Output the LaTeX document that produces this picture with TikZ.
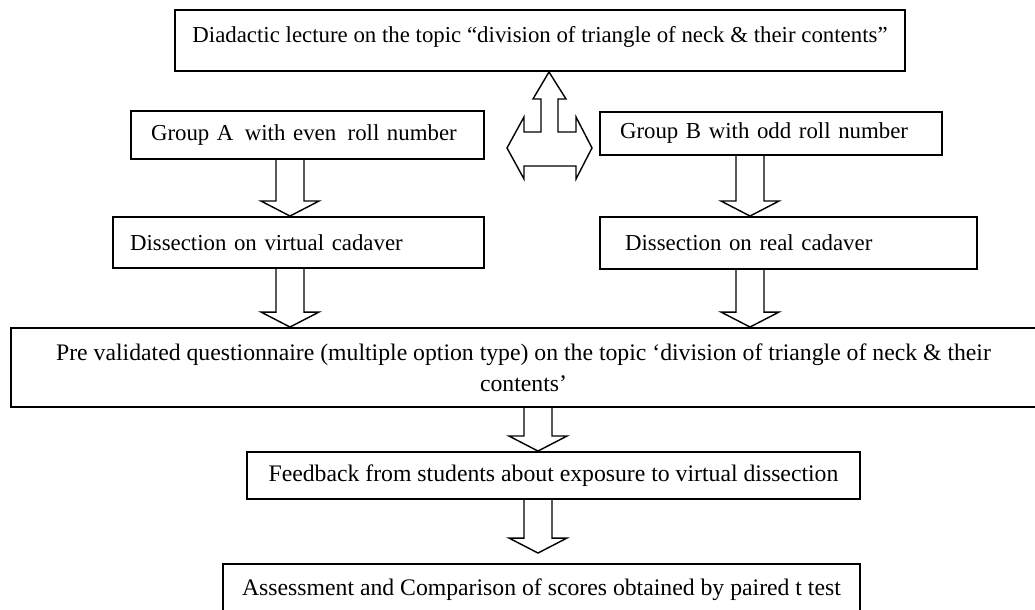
\documentclass[tikz,border=0pt]{standalone}
\usepackage{fontspec}
\setmainfont{Liberation Serif}
\usetikzlibrary{calc}

% hollow block arrow pointing down, from one box to the next at a given x (px)
\newcommand{\blockdown}[4][0]{%
  \path (#4,0) coordinate (bx);
  \coordinate (bs) at (#2.south -| bx);
  \coordinate (bt) at ($(#3.north -| bx)+(0,-#1)$);
  \draw[hollow] ($(bs)+(-14,0)$) -- ($(bt)+(-14,-15)$) -- ($(bt)+(-29,-15)$) -- (bt)
    -- ($(bt)+(29,-15)$) -- ($(bt)+(14,-15)$) -- ($(bs)+(14,0)$);
}

\begin{document}
\begin{tikzpicture}[x=0.02cm,y=-0.02cm]
        \tikzstyle{stepbox}=[draw=black,line width=1.1pt,inner ysep=0pt,font=\fontsize{13.5pt}{17.6pt}\selectfont]
        \tikzstyle{upperbox}=[stepbox,font=\fontsize{13pt}{17pt}\selectfont]
        \tikzstyle{leftbox}=[upperbox,align=left,inner xsep=0pt]
        \tikzstyle{hollow}=[draw=black,thick,line join=miter]
        \clip (0,0) rectangle (1035,609);
        \begin{scope}
            \node [upperbox,text depth=0.25cm,minimum width=14.6cm,minimum height=1.22cm] (lecture) at (540,40.5)
                {Diadactic lecture on the topic “division of triangle of neck \& their contents”};
            \node [leftbox,text width=7.06cm,minimum height=0.96cm] (groupA) at (307.5,135)
                {\hspace*{0.4cm}Group A\,\ with even\,\ roll number};
            \node [leftbox,text width=6.84cm,minimum height=0.86cm] (groupB) at (771,133.5)
                {\hspace*{0.4cm}Group B with odd roll number};
            \node [leftbox,text width=7.42cm,minimum height=1.02cm] (virtual) at (298.5,242.5)
                {\hspace*{0.34cm}Dissection on virtual cadaver};
            \node [leftbox,text width=7.54cm,minimum height=1.04cm] (real) at (788.5,243)
                {\hspace*{0.5cm}Dissection on real cadaver};
            \node [stepbox,align=center,minimum width=20.5cm,minimum height=1.58cm] (quest) at (523.5,367.5)
                {Pre validated questionnaire (multiple option type) on the topic ‘division of triangle of neck \& their\\contents’};
            \node [stepbox,minimum width=12.26cm,minimum height=0.94cm] (feedback) at (553.5,475.5)
                {Feedback from students about exposure to virtual dissection};
            \node [stepbox,minimum width=12.74cm,minimum height=1.04cm] (assess) at (541.5,590)
                {Assessment and Comparison of scores obtained by paired t test};
        \end{scope}
        % split of the class into two groups
        \path (549,0) coordinate (hx);
        \coordinate (hub) at (lecture.south -| hx);
        \draw[hollow] (hub) -- ++(17,27) -- ++(-8,0) -- ++(0,33) -- ++(18,0) -- ++(0,-15)
            -- ++(16,31) -- ++(-16,31) -- ++(0,-13) -- ++(-52,0) -- ++(0,13) -- ++(-17,-31)
            -- ++(17,-31) -- ++(0,15) -- ++(17,0) -- ++(0,-33) -- ++(-8,0) -- cycle;
        \blockdown{groupA}{virtual}{290}
        \blockdown{groupB}{real}{750}
        \blockdown{virtual}{quest}{290}
        \blockdown{real}{quest}{750}
        \blockdown{quest}{feedback}{538}
        \blockdown[10]{feedback}{assess}{538}
\end{tikzpicture}
\end{document}
